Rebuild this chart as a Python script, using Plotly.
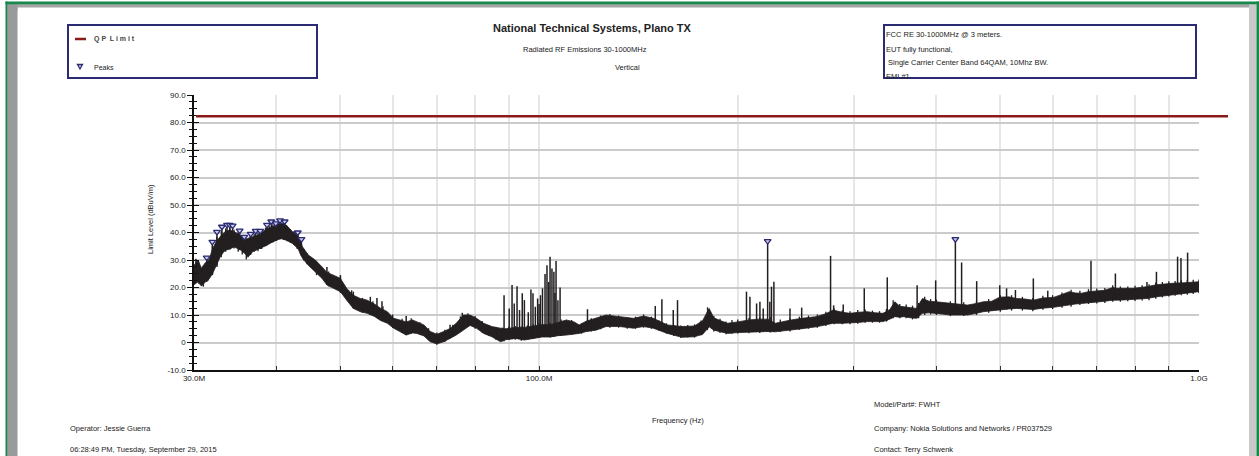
import plotly.graph_objects as go

# ---------------------------------------------------------------------------
# Measured spectrum: envelope of the sweep (MHz, dBuV/m)
# ---------------------------------------------------------------------------
FREQ_MHZ = [30.0, 30.4, 30.8, 31.2, 31.6, 32.0, 32.4, 33.0, 33.5, 34.0, 34.5,
            35.3, 35.8, 36.2, 36.8, 37.4, 38.0, 38.7, 39.4, 40.0, 40.6, 41.4,
            42.3, 43.1, 43.8, 44.7, 45.8, 46.9, 47.7, 48.8, 50.0, 51.1, 52.3,
            53.6, 54.9, 56.3, 57.5, 58.9, 60.2, 61.5, 62.9, 64.3, 65.3, 66.9,
            68.4, 70.0, 71.7, 73.3, 74.9, 76.8, 78.6, 80.4, 82.4, 84.8, 87.4,
            89.0, 92.0, 95.0, 98.0, 101.0, 104.0, 107.0, 110.0, 113.0, 115.0,
            118.0, 122.0, 126.3, 132.5, 139.0, 144.0, 149.0, 156.5, 164.6,
            172.0, 177.0, 181.0, 184.0, 188.0, 193.0, 200.0, 208.0, 215.0,
            222.0, 228.0, 235.0, 241.0, 250.0, 263.0, 272.0, 279.0, 288.0,
            296.0, 305.0, 314.0, 323.0, 332.0, 340.0, 346.0, 352.0, 357.0,
            365.0, 373.0, 381.0, 390.0, 400.0, 410.0, 419.0, 430.0, 446.0,
            460.0, 471.0, 485.0, 499.0, 515.0, 529.0, 545.0, 561.0, 580.0,
            602.0, 620.0, 636.0, 650.0, 664.0, 680.0, 700.0, 720.0, 740.0,
            750.0, 770.0, 795.0, 815.0, 834.0, 862.0, 895.0, 920.0, 948.0,
            975.0, 1000.0]
LOW_DB = [21.0, 22.0, 20.5, 22.0, 23.0, 25.0, 28.0, 32.0, 33.6, 34.0, 34.8,
          33.6, 32.5, 31.0, 33.0, 33.6, 34.5, 35.4, 36.5, 37.2, 37.8, 37.2,
          36.0, 34.2, 30.6, 28.1, 25.7, 23.3, 20.9, 19.7, 18.5, 15.4, 12.4,
          11.2, 10.6, 9.5, 8.0, 7.0, 5.2, 4.0, 2.7, 3.5, 3.3, 2.4,
          0.3, -0.5, 0.3, 1.5, 2.7, 4.5, 6.2, 5.2, 3.3, 2.1, 0.3,
          1.0, 1.5, 0.9, 1.5, 2.0, 2.0, 2.5, 2.7, 3.0, 3.3,
          4.0, 4.5, 5.8, 5.8, 5.2, 5.8, 5.2, 3.3, 1.9,
          2.1, 3.0, 5.7, 4.5, 3.9, 3.3, 3.6, 3.9, 3.9,
          4.0, 3.9, 4.2, 4.5, 5.0, 5.7, 6.5, 7.0, 7.0,
          7.0, 7.3, 7.6, 7.6, 7.6, 8.5, 9.4, 9.2, 9.4,
          9.0, 8.8, 10.6, 10.8, 10.6, 10.3, 10.0, 10.0, 10.0,
          10.6, 11.2, 11.5, 11.8, 12.2, 12.4, 12.2, 12.0, 12.5,
          12.8, 13.2, 13.6, 14.0, 14.2, 14.5, 14.8, 15.0, 15.4,
          15.4, 15.5, 15.7, 15.8, 16.0, 16.6, 17.3, 17.6, 17.9,
          18.2, 18.5]
HIGH_DB = [28.0, 30.0, 27.0, 29.0, 30.0, 34.0, 36.6, 39.0, 40.5, 40.9, 40.3,
           39.0, 37.5, 38.0, 38.5, 39.0, 40.0, 41.5, 42.0, 43.0, 43.5, 42.7,
           40.3, 39.0, 34.8, 31.8, 30.0, 27.5, 25.5, 24.5, 23.3, 19.7, 17.2,
           16.0, 15.4, 14.0, 12.5, 11.2, 8.8, 8.2, 7.5, 8.2, 7.6, 6.4,
           4.0, 3.0, 4.0, 5.1, 7.0, 10.0, 10.0, 8.8, 7.0, 5.8, 5.2,
           5.0, 5.5, 5.5, 6.0, 6.5, 6.5, 7.5, 8.2, 7.5, 6.4,
           7.8, 8.8, 10.0, 9.4, 8.8, 9.6, 8.8, 6.4, 5.8,
           6.0, 8.0, 12.4, 9.0, 8.0, 7.0, 7.5, 8.2, 8.5,
           8.5, 7.0, 7.8, 8.2, 8.8, 9.4, 10.5, 11.8, 11.0,
           10.6, 11.0, 11.2, 10.8, 10.6, 12.0, 14.8, 13.2, 13.0,
           12.8, 12.4, 16.0, 15.0, 14.8, 14.5, 14.2, 14.0, 13.6,
           14.2, 14.8, 15.0, 16.5, 16.6, 16.0, 15.8, 15.4, 16.2,
           16.4, 17.5, 18.5, 18.0, 17.9, 18.5, 18.8, 19.0, 20.0,
           19.7, 19.7, 19.7, 20.0, 20.3, 21.0, 21.5, 21.6, 21.7,
           22.0, 22.1]

# Min/max of individual sweep columns (MHz, min, max in dBuV/m)
SWEEP_MHZ = [30.5, 31.0, 31.5, 32.0, 32.5, 33.0, 33.5, 34.0, 34.5, 35.0,
             35.5, 36.0, 36.5, 37.0, 37.5, 38.0, 38.5, 39.0, 39.5, 40.0,
             40.5, 41.0, 41.5, 42.0, 42.5, 43.0, 43.5, 44.0, 44.5,
             46, 48, 50, 52, 54, 56, 58, 60, 62, 64, 66, 68, 70, 72, 74, 76,
             78, 80, 82, 84, 86, 88, 90, 92, 94, 96, 98,
             100, 104, 108, 112, 116, 120, 124, 128, 132, 136, 140, 144, 148,
             152, 156, 160, 164, 168, 172, 176, 180, 184, 188, 192, 196,
             200, 208, 216, 224, 232, 240, 248, 256, 264, 272, 280, 288, 296,
             304, 312, 320, 328, 336, 344, 352, 360, 368, 376, 384, 392,
             400, 420, 440, 460, 480, 500, 520, 540, 560, 580, 600, 620, 640,
             660, 680, 700, 720, 740, 760, 780, 800, 820, 840, 860, 880, 900,
             920, 940, 960, 980, 1000]
SWEEP_MIN_DB = [21.5, 20.3, 22.5, 24.5, 27.5, 31.0, 33.0, 33.8, 34.2, 33.0,
                32.0, 30.2, 31.8, 33.0, 33.2, 34.0, 35.0, 35.8, 36.4, 37.0,
                37.5, 37.4, 36.8, 36.3, 35.5, 34.0, 32.0, 29.8, 28.5,
                24.5, 20.5, 18.0, 13.8, 10.8, 9.8, 7.8, 5.4, 3.6, 3.2, 2.8, 0.8,
                -0.8, 0.2, 2.0, 3.8, 5.8, 5.0, 3.6, 2.4, 1.0, 0.4, 1.2, 1.0,
                0.6, 1.2, 1.4,
                1.8, 1.8, 2.4, 2.8, 3.2, 4.0, 4.8, 5.4, 5.4, 5.0, 5.0, 5.4, 5.0,
                4.2, 3.2, 2.4, 1.6, 1.8, 1.8, 2.6, 4.5, 4.0, 3.5, 3.0, 3.2,
                3.3, 3.4, 3.5, 3.6, 3.8, 4.0, 4.6, 5.0, 5.4, 6.0, 6.6, 6.6, 6.6,
                6.8, 7.2, 7.2, 7.2, 7.6, 8.8, 8.8, 8.8, 8.4, 8.8, 10.0, 10.2,
                10.0, 9.6, 9.6, 10.0, 10.8, 11.2, 11.6, 11.6, 11.4, 11.9, 12.2,
                12.6, 13.0, 13.6, 14.0, 14.2, 14.4, 14.8, 14.8, 15.0, 15.1, 15.3,
                15.4, 15.9, 16.4, 16.7, 17.0, 17.2, 17.4, 17.6, 17.9]
SWEEP_MAX_DB = [29.5, 28.0, 30.0, 35.0, 38.5, 40.5, 41.5, 41.8, 41.0, 40.2,
                38.0, 37.5, 38.8, 39.5, 40.0, 40.5, 41.8, 42.5, 43.0, 43.8,
                44.0, 43.5, 42.3, 41.2, 40.5, 39.5, 37.0, 34.0, 32.5,
                29.5, 25.8, 24.0, 19.0, 16.2, 15.0, 13.2, 10.2, 8.6, 8.8, 7.4,
                5.2, 3.6, 4.6, 6.5, 9.5, 10.6, 9.6, 7.8, 6.4, 5.6, 5.4, 5.8, 6.0,
                5.8, 6.2, 6.6,
                7.0, 7.2, 8.4, 8.2, 7.0, 8.8, 9.8, 10.4, 9.8, 9.2, 9.4, 10.2, 9.4,
                8.0, 7.0, 6.4, 6.2, 6.4, 6.6, 8.0, 12.8, 9.6, 8.6, 7.6, 8.2,
                8.4, 9.0, 9.2, 9.2, 8.4, 8.8, 9.4, 9.8, 10.2, 11.2, 12.4, 11.6,
                11.4, 11.8, 12.0, 11.6, 11.4, 12.2, 15.4, 14.0, 13.8, 13.4, 14.4,
                16.6, 15.8,
                15.6, 15.0, 14.6, 15.0, 15.8, 17.2, 17.2, 16.6, 16.2, 17.0, 17.2,
                18.2, 19.2, 18.8, 19.4, 19.6, 19.8, 20.8, 20.4, 20.4, 20.6, 20.8,
                21.2, 21.8, 22.0, 22.3, 22.4, 22.6, 22.8, 22.8, 22.9]

# Narrow emissions standing above the noise floor (MHz, floor, top in dBuV/m)
SPIKE_MHZ = [30.2, 31.36, 31.98, 32.5, 33.07, 33.66, 33.98, 34.33, 35.18,
             35.75, 36.56, 37.2, 37.8, 38.7, 39.28, 39.9, 40.5, 41.16, 43.09,
             43.64, 47.7, 50.0, 52.3, 55.5, 56.8, 57.8, 62.9, 73.3, 76.5,
             88.5, 90.1, 91.0, 91.7, 92.6, 93.4, 94.3, 95.0, 96.3, 97.2, 97.9,
             98.7, 99.5, 100.0, 100.5, 101.2, 102.1, 102.8, 103.4, 103.9,
             104.6, 105.3, 105.7, 106.1, 106.8, 107.6, 118.4, 150.0, 153.5,
             159.7, 162.1, 206.2, 208.7, 213.6, 216.1, 218.6, 222.0, 223.7,
             225.0, 226.9, 240.0, 250.0, 276.5, 279.5, 289.0, 311.0, 337.0,
             374.0, 399.0, 427.4, 436.8, 460.4, 499.0, 511.0, 527.0, 561.0,
             590.0, 686.0, 747.0, 834.0, 862.0, 928.0, 939.0, 961.0]
SPIKE_FLOOR_DB = [22.0, 22.0, 25.0, 28.0, 32.0, 33.6, 34.0, 34.5, 33.6,
                  32.5, 32.0, 33.5, 34.0, 35.4, 36.3, 37.0, 37.6, 37.3, 34.2,
                  31.5, 21.0, 18.5, 12.4, 10.0, 9.0, 8.0, 2.7, 1.5, 4.5,
                  0.5, 1.0, 1.2, 1.4, 1.5, 1.3, 1.0, 0.9, 1.1, 1.3, 1.5,
                  1.6, 1.8, 1.9, 2.0, 2.0, 2.0, 2.0, 2.0, 2.0,
                  2.0, 2.2, 2.3, 2.4, 2.5, 2.5, 4.0, 5.0, 4.5,
                  3.0, 2.3, 3.9, 3.9, 3.9, 3.9, 4.0, 4.0, 4.0,
                  4.0, 3.9, 4.5, 5.0, 6.8, 7.0, 7.0, 7.5, 8.0,
                  8.8, 10.6, 10.0, 10.0, 10.6, 11.8, 12.0, 12.4, 12.0,
                  12.6, 14.6, 15.4, 16.0, 16.6, 17.7, 17.8, 18.0]
SPIKE_TOP_DB = [30.5, 30.9, 36.6, 40.2, 42.1, 42.8, 42.8, 42.5, 40.7,
                38.4, 39.5, 40.6, 40.6, 42.8, 44.0, 43.3, 44.4, 44.0, 40.0,
                37.6, 27.5, 24.5, 18.5, 16.6, 16.2, 15.0, 9.6, 6.5, 10.8,
                17.2, 12.4, 20.9, 14.2, 20.5, 11.8, 17.9, 15.4, 11.0, 19.3, 17.9,
                13.0, 16.0, 14.0, 17.2, 19.7, 24.9, 28.1, 22.0, 31.2,
                26.9, 25.7, 18.0, 29.6, 15.4, 20.0, 12.1, 13.3, 15.7,
                11.8, 15.4, 18.5, 16.6, 14.2, 14.8, 12.4, 36.9, 14.8,
                20.3, 22.1, 12.4, 12.7, 31.5, 13.5, 13.8, 19.7, 23.7,
                20.8, 22.6, 37.6, 29.1, 22.3, 20.8, 19.7, 19.1, 23.3,
                18.8, 29.7, 25.1, 22.0, 25.7, 31.2, 30.7, 32.7]

# Peak-search results (MHz, dBuV/m)
PEAK_MHZ = [31.36, 31.98, 32.5, 33.07, 33.66, 33.98, 34.33, 35.18, 35.75,
            36.56, 37.2, 37.8, 38.7, 39.28, 39.9, 40.5, 41.16, 43.09, 43.64,
            222.0, 427.4]
PEAK_DB = [30.9, 36.6, 40.2, 42.1, 42.8, 42.8, 42.5, 40.7, 38.4,
           39.5, 40.6, 40.6, 42.8, 44.0, 43.3, 44.4, 44.0, 40.0, 37.6,
           36.9, 37.6]

# Quasi-peak limit
LIMIT_DB = 82.3

# Axis ticks
Y_TICKS = [-10, 0, 10, 20, 30, 40, 50, 60, 70, 80, 90]
Y_TICK_TEXT = ["-10.0", "0", "10.0", "20.0", "30.0", "40.0", "50.0",
               "60.0", "70.0", "80.0", "90.0"]
X_TICK_MHZ = [30, 40, 50, 60, 70, 80, 90, 100, 200, 300, 400, 500, 600,
              700, 800, 900, 1000]
X_TICK_TEXT = ["30.0M", "", "", "", "", "", "", "100.0M", "", "", "", "",
               "", "", "", "", "1.0G"]

# ---------------------------------------------------------------------------
W, H = 1259, 456
ML, MR, MT, MB = 194, 60, 95, 86
PW, PH = W - ML - MR, H - MT - MB

FONT = "Liberation Sans Narrow, Liberation Sans, Arial, sans-serif"
INK = "#231f20"
NAVY = "#2b2b74"


def px(x):
    """pixel column -> paper coordinate"""
    return (x - ML) / PW


def py(y):
    """pixel row -> paper coordinate"""
    return (H - MB - y) / PH


MHZ = 1e6
fig = go.Figure()

# noise band of the sweep
band_x = [f * MHZ for f in FREQ_MHZ] + [f * MHZ for f in FREQ_MHZ[::-1]]
band_y = HIGH_DB + LOW_DB[::-1]
fig.add_trace(go.Scatter(
    x=band_x, y=band_y, mode="lines", fill="toself", fillcolor=INK,
    line=dict(color=INK, width=0.8), hoverinfo="skip", showlegend=False))


def strokes(freqs, lows, highs):
    xs, ys = [], []
    for f, lo, hi in zip(freqs, lows, highs):
        xs += [f * MHZ, f * MHZ, None]
        ys += [lo, hi, None]
    return xs, ys


# individual sweep columns (rough edges of the band)
wx, wy = strokes(SWEEP_MHZ, SWEEP_MIN_DB, SWEEP_MAX_DB)
fig.add_trace(go.Scatter(
    x=wx, y=wy, mode="lines", line=dict(color=INK, width=1.3),
    hoverinfo="skip", showlegend=False))

# narrow emissions
sx, sy = strokes(SPIKE_MHZ, SPIKE_FLOOR_DB, SPIKE_TOP_DB)
fig.add_trace(go.Scatter(
    x=sx, y=sy, mode="lines", line=dict(color=INK, width=1.5),
    hoverinfo="skip", showlegend=False))

# peaks
fig.add_trace(go.Scatter(
    x=[f * MHZ for f in PEAK_MHZ], y=PEAK_DB, mode="markers",
    marker=dict(symbol="triangle-down", size=6, color="#c9c9e8",
                line=dict(color=NAVY, width=1.3)),
    showlegend=False, name="Peaks"))

# overlay axis carrying the inner half of the crossing ticks
fig.add_trace(go.Scatter(x=[], y=[], yaxis="y2", showlegend=False))

shapes = []

# QP limit line (runs slightly past the last decade)
shapes.append(dict(type="line", xref="paper", yref="y", x0=px(196), x1=px(1228),
                   y0=LIMIT_DB, y1=LIMIT_DB, line=dict(color="#8b1a1a", width=2.6)))

# legend box (top left)
shapes.append(dict(type="rect", xref="paper", yref="paper",
                   x0=px(68), x1=px(317), y0=py(25), y1=py(78),
                   line=dict(color=NAVY, width=2), fillcolor="rgba(0,0,0,0)"))
shapes.append(dict(type="line", xref="paper", yref="paper",
                   x0=px(75), x1=px(86), y0=py(39), y1=py(39),
                   line=dict(color="#8b1a1a", width=2.5)))
# info box (top right)
shapes.append(dict(type="rect", xref="paper", yref="paper",
                   x0=px(884), x1=px(1196), y0=py(25), y1=py(78),
                   line=dict(color=NAVY, width=2), fillcolor="rgba(0,0,0,0)"))


def box(x0, x1, y0, y1, color):
    return dict(type="rect", xref="paper", yref="paper",
                x0=px(x0), x1=px(x1), y0=py(y0), y1=py(y1),
                line=dict(width=0), fillcolor=color, layer="above")


# page frame
GREEN = "#17884a"
shapes += [
    box(7, 1249, 4, 7.6, "#a4a4a4"),
    box(7, 17.5, 4, H, "#9a9a9a"),
    box(1249, 1256.5, 4, H, "#c9c9c9"),
    box(5.5, W, 1.5, 4.2, GREEN),
    box(5.5, 7.2, 1.5, H, GREEN),
    box(1256.5, W, 1.5, H, GREEN),
    dict(type="path", xref="paper", yref="paper",
         path="M {} {} L {} {} L {} {} Z".format(
             px(17.5), py(7.6), px(17.5), py(10.5), px(12), py(7.6)),
         line=dict(width=0), fillcolor="#9a9a9a"),
]

# legend triangle
shapes.append(dict(type="path", xref="paper", yref="paper",
                   path="M {} {} L {} {} L {} {} Z".format(
                       px(77.5), py(64.5), px(82.5), py(64.5), px(80), py(69)),
                   line=dict(color=NAVY, width=1.3), fillcolor="#c9c9e8"))


def note(text, x, y, size=7.5, anchor="left", bold=False, color="#222", angle=0):
    return dict(text=("<b>%s</b>" % text) if bold else text,
                x=px(x), y=py(y), xref="paper", yref="paper",
                xanchor=anchor, yanchor="middle", showarrow=False,
                textangle=angle, font=dict(family=FONT if not bold else
                                           "Liberation Sans, Arial, sans-serif",
                                           size=size, color=color))


annotations = [
    note("National Technical Systems, Plano TX", 592, 28, size=11, anchor="center", bold=True),
    note("Radiated RF Emissions 30-1000MHz", 585, 49, size=7.5, anchor="center"),
    note("Vertical", 627, 67, size=7.5, anchor="center"),
    note("Q P  L i m i t", 92, 39, size=7, bold=True, color="#444"),
    note("Peaks", 92, 67, size=7),
    note("FCC RE 30-1000MHz @ 3 meters.", 884, 35, size=7.5),
    note("EUT fully functional,", 884, 49, size=7.5),
    note(" Single Carrier Center Band 64QAM, 10Mhz BW.", 884, 63, size=7.5),
    note("EMI #1", 884, 76, size=7.5),
    note("Limit Level (dBuV/m)", 150, 219, size=7.5, anchor="center", angle=-90),
    note("Frequency (Hz)", 678, 420, size=7.5, anchor="center"),
    note("Model/Part#: FWHT", 872, 404, size=7.5),
    note("Company: Nokia Solutions and Networks / PR037529", 872, 428, size=7.5),
    note("Contact: Terry Schwenk", 872, 449, size=7.5),
    note("Operator: Jessie Guerra", 68, 428, size=7.5),
    note("06:28:49 PM, Tuesday, September 29, 2015", 68, 449, size=7.5),
]

tick_font = dict(family=FONT, size=8, color="#222")

fig.update_layout(
    width=W, height=H,
    margin=dict(l=ML, r=MR, t=MT, b=MB, pad=0),
    paper_bgcolor="white", plot_bgcolor="white",
    showlegend=False,
    shapes=shapes, annotations=annotations,
    xaxis=dict(
        type="log", range=[7.4771, 9.0],
        tickvals=[f * MHZ for f in X_TICK_MHZ], ticktext=X_TICK_TEXT,
        ticks="inside", ticklen=4, tickwidth=1, tickcolor="#333",
        tickfont=tick_font, showgrid=True, gridcolor="#e6e6e6", gridwidth=1.5,
        showline=True, linecolor="#111", linewidth=1.5, zeroline=False,
        fixedrange=True),
    yaxis=dict(
        range=[-10, 90], tickvals=Y_TICKS, ticktext=Y_TICK_TEXT,
        ticks="outside", ticklen=5, tickwidth=1, tickcolor="#111",
        minor=dict(dtick=2.5, tick0=0, ticks="outside", ticklen=3,
                   tickcolor="#111", showgrid=False),
        tickfont=tick_font, showgrid=True, gridcolor="#cbcbcb", gridwidth=1.5,
        showline=True, linecolor="#111", linewidth=1.5, zeroline=False,
        fixedrange=True),
    yaxis2=dict(
        overlaying="y", anchor="x", side="left", range=[-10, 90],
        tickvals=Y_TICKS, showticklabels=False,
        ticks="inside", ticklen=5, tickwidth=1, tickcolor="#111",
        minor=dict(dtick=2.5, tick0=0, ticks="inside", ticklen=3,
                   tickcolor="#111", showgrid=False),
        showgrid=False, showline=False, zeroline=False, fixedrange=True),
)

fig.write_html("out.html")
